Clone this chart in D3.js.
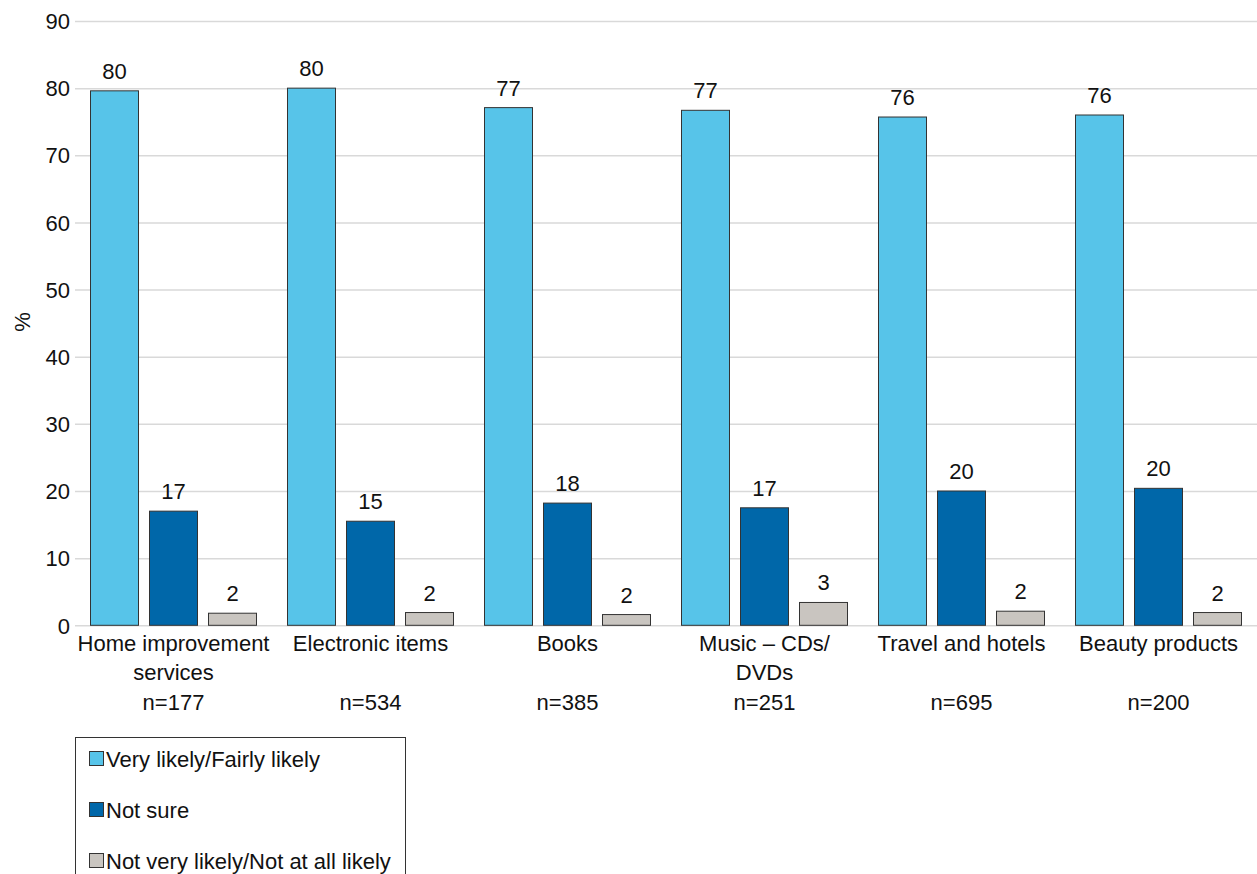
<!DOCTYPE html>
<html>
<head>
<meta charset="utf-8">
<script src="https://cdn.jsdelivr.net/npm/d3@7"></script>
<style>
  html, body { margin: 0; padding: 0; background: #fff; }
  svg { display: block; font-family: "Liberation Sans", Arial, sans-serif; }
</style>
</head>
<body>
<svg id="chart" width="1257" height="874"></svg>
<script>
// Likelihood of buying each product type, by category (%)
const categories = ["Home improvement services", "Electronic items", "Books", "Music – CDs/ DVDs", "Travel and hotels", "Beauty products"];
const categoryLines = [["Home improvement", "services"], ["Electronic items"], ["Books"], ["Music – CDs/", "DVDs"], ["Travel and hotels"], ["Beauty products"]];
const sampleSizes = ["n=177", "n=534", "n=385", "n=251", "n=695", "n=200"];
const seriesNames = ["Very likely/Fairly likely", "Not sure", "Not very likely/Not at all likely"];
const likely = [79.6, 80.0, 77.1, 76.7, 75.7, 76.0];
const notSure = [17.0, 15.5, 18.2, 17.5, 20.0, 20.4];
const unlikely = [1.8, 1.9, 1.6, 3.4, 2.1, 1.9];
const labelLikely = [80, 80, 77, 77, 76, 76];
const labelNotSure = [17, 15, 18, 17, 20, 20];
const labelUnlikely = [2, 2, 2, 3, 2, 2];
const yTicks = [0, 10, 20, 30, 40, 50, 60, 70, 80, 90];
const colors = ["#57C4E9", "#0067A9", "#C9C5C0"];

const seriesValues = [likely, notSure, unlikely];
const seriesLabels = [labelLikely, labelNotSure, labelUnlikely];

const svg = d3.select("#chart");
const plot = { left: 75, right: 1257, top: 21, bottom: 625.3 };
const fontSize = 22;

const x = d3.scaleBand().domain(categories).range([plot.left, plot.right]).padding(0);
const groupWidth = 166;
const xInner = d3.scaleBand().domain(seriesNames)
  .range([0, groupWidth]).paddingInner(11 / 59).paddingOuter(0);
const y = d3.scaleLinear().domain([0, 90]).range([plot.bottom, plot.top]);

// horizontal gridlines with value labels
const yAxis = d3.axisLeft(y).tickValues(yTicks).tickSize(0).tickPadding(0);
const gAxis = svg.append("g").attr("transform", `translate(${plot.left},0)`).call(yAxis);
gAxis.select(".domain").remove();
gAxis.selectAll(".tick text")
  .attr("x", -5).attr("dy", "0.35em")
  .attr("font-size", fontSize).attr("font-family", "Liberation Sans, Arial, sans-serif")
  .attr("fill", "#111");
gAxis.selectAll(".tick line")
  .attr("x2", plot.right - plot.left)
  .attr("stroke", "#d9d9d9").attr("stroke-width", 1.5);

// axis title
svg.append("text")
  .attr("transform", "translate(30,322) rotate(-90)")
  .attr("text-anchor", "middle")
  .attr("font-size", fontSize).attr("fill", "#111")
  .text("%");

// bar groups
const groups = svg.append("g").selectAll("g")
  .data(categories)
  .join("g")
  .attr("transform", d => `translate(${x(d) + (x.bandwidth() - groupWidth) / 2},0)`);

groups.each(function(cat, ci) {
  const g = d3.select(this);
  seriesNames.forEach((s, si) => {
    const v = seriesValues[si][ci];
    g.append("rect")
      .attr("x", xInner(s))
      .attr("y", y(v))
      .attr("width", xInner.bandwidth())
      .attr("height", y(0) - y(v))
      .attr("fill", colors[si])
      .attr("stroke", "#333")
      .attr("stroke-width", 1);
    g.append("text")
      .attr("x", xInner(s) + xInner.bandwidth() / 2)
      .attr("y", y(v) - 12)
      .attr("text-anchor", "middle")
      .attr("font-size", fontSize).attr("fill", "#111")
      .text(seriesLabels[si][ci]);
  });
});

// category labels and sample sizes
const catLabels = svg.append("g").selectAll("g")
  .data(categories)
  .join("g")
  .attr("transform", d => `translate(${x(d) + x.bandwidth() / 2},0)`);

catLabels.each(function(cat, ci) {
  const g = d3.select(this);
  categoryLines[ci].forEach((line, li) => {
    g.append("text")
      .attr("y", 651 + li * 28.5)
      .attr("text-anchor", "middle")
      .attr("font-size", fontSize).attr("fill", "#111")
      .text(line);
  });
  g.append("text")
    .attr("y", 710)
    .attr("text-anchor", "middle")
    .attr("font-size", fontSize).attr("fill", "#111")
    .text(sampleSizes[ci]);
});

// legend
const legend = svg.append("g");
legend.append("rect")
  .attr("x", 75.5).attr("y", 737.5)
  .attr("width", 330).attr("height", 160)
  .attr("fill", "#fff").attr("stroke", "#333").attr("stroke-width", 1);

const items = legend.selectAll("g.item")
  .data(seriesNames)
  .join("g")
  .attr("class", "item")
  .attr("transform", (d, i) => `translate(89,${759 + i * 51})`);

items.append("rect")
  .attr("x", 0.5).attr("y", -7.5)
  .attr("width", 14).attr("height", 14)
  .attr("fill", (d, i) => colors[i])
  .attr("stroke", "#333").attr("stroke-width", 1);

items.append("text")
  .attr("x", 17).attr("y", 0).attr("dy", "0.35em")
  .attr("font-size", fontSize).attr("fill", "#111")
  .text(d => d);
</script>
</body>
</html>
